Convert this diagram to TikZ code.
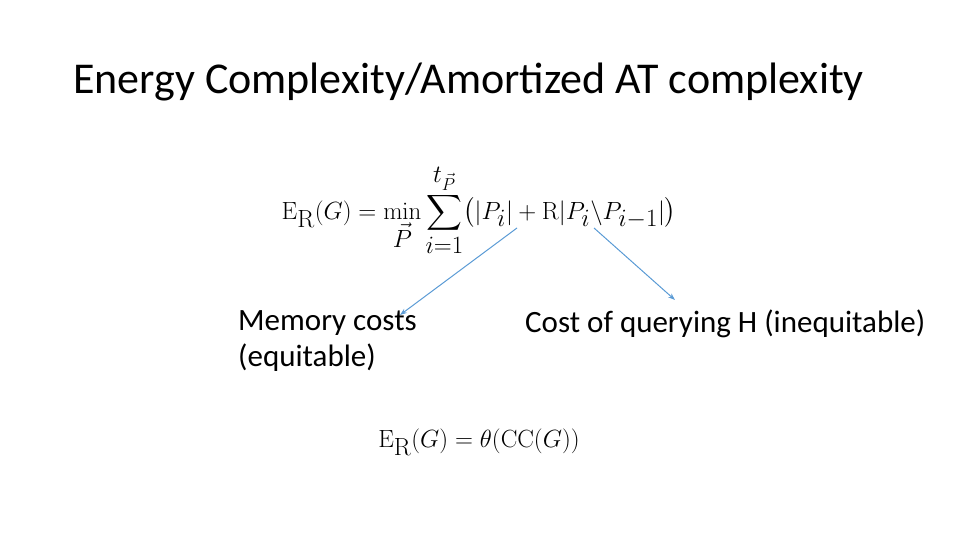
\documentclass[tikz,border=0pt]{standalone}
\usepackage{amsmath}
\usepackage[no-math]{fontspec}
\setmainfont{Carlito}
\usetikzlibrary{arrows.meta}
\begin{document}
\begin{tikzpicture}[x=1pt,y=1pt,
  lbl/.style={anchor=west,inner sep=0pt,font=\fontsize{31}{36}\selectfont,align=left},
  conn/.style={draw={rgb,255:red,91;green,155;blue,213},line width=1pt,-{Stealth[length=7pt,width=5pt]}}]
\useasboundingbox (0,0) rectangle (960,540);
\node[anchor=west,inner sep=0pt,font=\fontsize{44}{48}\selectfont] (title) at (73,458) {Energy Complexity/Amortized AT complexity};
\node[inner sep=0pt,font=\fontsize{36}{42}\selectfont] (f1) at (479,330)
  {$\displaystyle\mathrm{E_R}(G)=\min_{\vec P}\sum_{i=1}^{t_{\vec P}}\bigl(|P_i|+\mathrm{R}|P_i\backslash P_{i-1}|\bigr)$};
\node[inner sep=0pt,font=\fontsize{38}{44}\selectfont] (f2) at (479,98)
  {$\mathrm{E_R}(G)=\theta(\mathrm{CC}(G))$};
\node[lbl] (m) at (238,199) {Memory costs\\(equitable)};
\node[lbl] (c) at (525,216) {Cost of querying H (inequitable)};
\coordinate (a1) at (517,312);
\coordinate (a2) at (594,312);
\coordinate (b1) at (400,225);
\coordinate (b2) at (675,240);
\draw[conn] (a1) -- (b1);
\draw[conn] (a2) -- (b2);
\end{tikzpicture}
\end{document}
